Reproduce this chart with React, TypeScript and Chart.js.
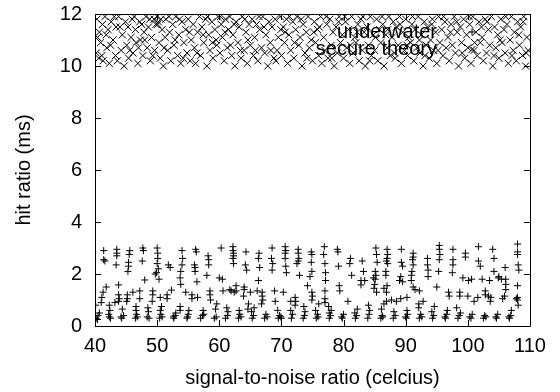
import React, { useEffect, useRef } from "react";
import { Chart, registerables } from "chart.js";

Chart.register(...registerables);

const xTitle = "signal-to-noise ratio (celcius)";
const yTitle = "hit ratio (ms)";
const xRange = [40, 110];
const yRange = [0, 12];
const xStep = 10;
const yStep = 2;
const seriesLabels = ["underwater", "secure theory"];

const underwater: number[][] = [
  [40.2,0.3],[40.5,0.4],[40.4,0.25],[40.7,0.5],[40.1,0.8],[41.0,0.9],[41.1,1.1],[41.3,1.3],[41.8,1.5],[41.4,2.55],[41.6,2.5],[41.4,2.9],
  [42.3,0.35],[42.5,0.3],[42.2,0.45],[42.4,0.6],[42.3,0.8],[43.2,0.9],[43.5,2.95],[43.5,2.8],[43.5,2.7],[43.4,2.35],[43.8,1.58],[43.8,1.2],[43.9,1.05],[43.8,0.95],
  [44.3,0.3],[44.6,0.4],[44.2,0.35],[44.4,0.65],[45.2,1.2],[45.2,1.05],[45.1,0.95],[45.6,2.9],[45.5,2.75],[45.4,2.45],[45.4,2.3],[45.3,2.1],
  [46.5,0.3],[46.7,0.45],[46.6,0.6],[46.6,0.75],[46.8,0.35],[46.1,1.3],[47.2,1.35],[47.2,1.05],[47.7,3.0],[47.8,2.9],[47.6,2.5],
  [48.4,0.35],[48.6,0.55],[48.5,0.7],[48.7,0.3],[48.0,1.77],[49.3,1.35],[49.3,1.2],[49.2,0.95],
  [50.4,0.3],[50.6,0.45],[50.5,0.6],[50.7,0.75],[50.8,0.35],[50.5,1.1],[50.3,1.8],[50.0,3.0],[50.1,2.8],[50.1,2.6],[50.0,2.4],[50.2,2.2],[49.9,2.05],[49.7,2.0],[51.6,1.2],[51.6,1.05],[51.8,2.35],[52.1,2.25],
  [52.7,0.3],[52.9,0.4],[52.6,0.35],[53.0,0.5],[52.3,1.38],[53.8,1.6],[53.7,0.75],[53.7,0.6],[54.0,2.9],[54.1,2.6],[54.0,2.35],[53.8,2.1],[53.7,1.85],
  [54.8,0.3],[55.0,0.45],[55.1,0.6],[54.9,0.35],[54.6,1.3],[55.6,1.2],[55.6,1.05],[56.5,1.1],[56.4,1.7],[56.2,2.95],[56.3,2.85],[56.0,2.35],[56.1,2.25],[56.1,2.1],
  [57.0,0.3],[57.3,0.4],[57.4,0.6],[57.5,0.45],[58.2,2.7],[58.3,2.55],[58.3,2.35],[58.0,1.95],[58.5,1.35],[58.5,1.2],[58.6,1.0],
  [59.2,0.3],[59.5,0.35],[59.4,0.65],[59.6,0.85],[60.3,3.0],[60.0,1.85],[60.5,1.8],[60.6,1.35],
  [61.0,0.3],[61.3,0.4],[61.4,0.55],[61.2,0.7],[61.7,1.4],[62.2,2.9],[62.3,2.7],[62.2,2.6],[62.3,2.4],[62.7,1.35],[62.7,1.55],[62.2,3.05],[62.3,2.8],
  [63.1,0.3],[63.3,0.45],[63.5,0.35],[63.2,0.6],[62.4,1.3],[61.9,1.35],[64.0,1.5],[64.0,1.4],[63.9,1.15],[64.3,2.85],[64.2,2.35],[64.4,2.15],
  [65.3,0.3],[65.5,0.4],[65.2,0.55],[65.6,0.7],[65.0,1.3],[66.1,1.35],[66.3,1.75],[66.4,2.8],[66.3,2.6],[66.5,2.25],[64.7,0.85],[64.6,0.65],
  [67.3,0.3],[67.5,0.45],[67.7,0.35],[66.9,1.3],[66.9,1.15],[67.0,1.0],[66.8,0.85],[68.5,3.0],[68.4,2.6],[68.6,2.4],[68.5,2.15],[68.9,1.35],[69.0,0.95],
  [69.5,0.3],[69.7,0.4],[69.9,0.35],[69.4,0.6],[70.3,1.3],[70.6,3.05],[70.7,2.9],[70.6,2.8],[70.6,2.6],[70.7,2.3],[70.8,2.05],[70.0,0.3],
  [71.6,0.3],[71.8,0.45],[71.5,0.6],[71.5,0.95],[72.2,1.1],[72.3,0.95],[72.2,0.8],[72.7,2.95],[72.7,2.8],[72.8,2.6],[72.7,2.5],[72.5,2.4],[72.9,1.95],
  [73.5,0.3],[73.7,0.4],[73.8,0.55],[73.6,0.75],[74.2,1.55],[74.8,2.85],[74.9,2.75],[74.8,2.45],[74.9,2.1],[74.6,1.9],[74.9,1.3],[75.0,1.15],[74.9,1.0],
  [75.6,0.3],[75.8,0.45],[75.5,0.6],[75.9,0.35],[76.0,0.85],[76.9,3.05],[76.8,2.75],[77.0,2.4],[77.1,2.05],[77.1,1.75],[77.0,1.35],[77.0,1.05],[77.0,0.9],
  [77.7,0.3],[77.9,0.4],[78.0,0.6],[77.6,0.75],[77.7,0.5],
  [79.8,0.3],[80.0,0.45],[79.7,0.35],[79.0,2.95],[79.1,2.85],[79.2,2.3],[79.3,1.55],[79.4,1.35],[80.7,0.95],[81.1,2.6],[81.0,2.4],[81.3,1.95],
  [81.9,0.3],[82.1,0.4],[82.2,0.65],[81.8,0.5],[83.0,2.5],[83.2,2.1],[82.8,1.75],[83.4,1.75],[82.8,1.58],
  [83.9,0.3],[84.1,0.45],[84.2,0.6],[84.0,0.8],[84.8,1.85],[85.0,1.6],[84.9,1.45],[85.3,1.3],[85.2,3.0],[85.3,2.75],[85.4,2.45],[85.1,2.1],[85.2,1.95],[85.1,1.8],
  [86.0,0.3],[86.2,0.4],[86.3,0.35],[86.1,0.65],[86.5,1.45],[87.0,1.55],[86.9,1.3],[86.5,0.85],[86.9,0.95],[87.0,2.95],[87.1,2.75],[87.0,2.6],[86.9,2.5],[87.1,2.4],[86.8,2.1],[86.8,1.95],
  [88.0,0.3],[88.3,0.4],[88.1,0.55],[87.7,1.0],[88.5,0.95],[89.3,2.95],[89.3,2.45],[89.5,2.3],[89.2,1.9],[89.0,1.75],[89.5,1.7],[89.2,1.05],
  [90.1,0.3],[90.3,0.45],[90.0,0.35],[90.2,0.6],[90.2,1.1],[91.2,2.8],[91.2,2.65],[91.1,2.55],[91.2,2.35],[91.0,2.1],[90.9,1.95],[90.9,1.75],[91.2,1.5],[91.5,1.4],
  [92.2,0.3],[92.4,0.45],[92.1,0.7],[92.6,0.35],[92.2,1.35],[92.1,0.85],[92.8,0.95],[93.5,2.6],[93.5,2.35],[93.6,2.15],[93.6,1.9],
  [94.3,0.3],[94.5,0.4],[94.2,0.55],[94.6,0.75],[95.0,1.5],[95.4,3.1],[95.4,2.95],[95.5,2.75],[95.4,2.55],[95.3,2.1],
  [96.4,0.3],[96.6,0.45],[96.7,0.6],[96.3,0.35],[96.9,1.3],[97.0,1.15],[97.6,2.95],[97.6,2.55],[97.6,2.35],[97.5,2.05],
  [98.4,0.3],[98.6,0.4],[98.8,0.5],[98.2,0.7],[98.7,1.3],[98.7,1.15],[99.6,2.8],[99.6,2.65],[99.2,1.85],[100.1,1.75],[100.6,1.8],
  [100.5,0.3],[100.7,0.45],[100.3,0.35],[100.0,1.15],[101.0,0.95],[101.7,3.05],[101.7,2.5],[102.0,2.3],[102.3,1.8],[101.6,1.1],
  [102.5,0.3],[102.7,0.4],[102.9,0.35],[102.8,1.35],[102.8,1.2],[103.3,1.15],[103.6,0.95],[104.0,2.95],[104.2,2.6],[104.2,2.1],[103.5,1.75],[103.7,1.1],
  [104.6,0.3],[104.8,0.45],[104.5,0.35],[104.9,1.85],[105.0,1.9],[106.0,2.25],[106.1,1.8],[105.4,1.8],[106.1,1.6],[106.1,1.4],[105.6,1.05],[105.9,1.15],
  [106.7,0.3],[106.9,0.4],[106.6,0.35],[107.0,0.6],[108.0,3.15],[108.0,2.85],[108.0,2.75],[108.1,2.35],[108.2,2.15],[108.0,1.55],[108.0,1.1],[108.0,1.0],[108.1,0.8],[107.8,1.05]
];

const secureTheory: number[][] = [
  [40.2,10.5],[40.3,11.8],[40.6,10.3],[40.7,11.3],[40.9,10.9],[41.2,11.6],[41.3,10.2],[41.6,11.9],[41.9,10.7],[42.1,11.4],[42.3,10.1],[42.6,11.7],[42.9,11.0],[43.3,10.4],[43.4,11.5],[43.8,11.9],[44.2,10.6],[44.4,11.2],[44.7,10.0],[44.9,11.7],
  [45.1,10.8],[45.3,11.5],[45.4,10.3],[45.8,11.1],[46.0,11.8],[46.1,10.5],[46.5,11.4],[46.6,10.9],[46.9,10.1],[47.2,11.7],[47.3,11.0],[47.7,10.4],[47.9,11.3],[48.2,11.9],[48.4,10.7],[48.6,11.5],[48.9,10.2],[49.1,11.1],[49.5,11.8],[49.6,10.6],[49.8,11.6],
  [50.0,11.9],[50.2,11.7],[50.3,10.9],[50.5,10.3],[50.8,11.4],[51.0,10.0],[51.3,11.1],[51.4,11.8],[51.7,10.6],[52.0,11.3],[52.2,10.2],[52.5,11.6],[52.7,10.8],[53.0,11.9],[53.3,10.4],[53.5,11.2],[53.8,10.1],[54.0,11.7],[54.3,10.9],[54.6,11.4],[54.8,10.5],
  [55.0,11.8],[55.3,10.2],[55.5,11.0],[55.8,11.6],[56.0,10.7],[56.2,10.1],[56.5,11.3],[56.8,11.9],[57.0,10.4],[57.2,11.5],[57.5,10.9],[57.8,11.8],[58.0,10.0],[58.3,11.2],[58.5,10.6],[58.8,11.7],[59.0,10.3],[59.3,11.4],[59.6,10.8],[59.8,11.9],
  [60.1,10.5],[60.3,11.6],[60.5,11.1],[60.8,10.2],[61.0,11.8],[61.3,10.7],[61.5,11.4],[61.7,11.9],[62.0,10.4],[62.2,11.2],[62.5,10.0],[62.7,11.7],[63.0,10.9],[63.2,11.5],[63.5,10.3],[63.7,11.9],[64.0,10.6],[64.3,11.3],[64.5,10.1],[64.8,11.6],
  [65.0,10.8],[65.3,11.8],[65.5,10.4],[65.7,11.1],[66.0,11.6],[66.2,10.2],[66.5,11.4],[66.8,10.7],[67.0,11.9],[67.3,10.5],[67.5,11.2],[67.8,10.0],[68.0,11.7],[68.2,10.9],[68.5,11.5],[68.8,10.3],[69.0,11.8],[69.3,10.6],[69.5,11.1],[69.8,11.9],
  [70.0,10.4],[70.3,11.5],[70.5,10.9],[70.8,11.8],[71.0,10.1],[71.2,11.2],[71.5,10.6],[71.8,11.7],[72.0,10.3],[72.3,11.4],[72.5,11.9],[72.8,10.8],[73.0,11.1],[73.3,10.0],[73.5,11.6],[73.8,10.5],[74.0,11.3],[74.3,11.9],[74.5,10.7],[74.8,11.0],
  [75.0,10.2],[75.3,11.7],[75.5,10.9],[75.8,11.4],[76.0,10.4],[76.3,11.9],[76.5,10.1],[76.8,11.1],[77.0,10.6],[77.3,11.6],[77.5,10.3],[77.8,11.8],[78.0,10.8],[78.3,11.3],[78.5,10.0],[78.8,11.5],[79.0,10.5],[79.3,11.9],[79.5,10.9],[79.8,11.2],
  [80.0,10.3],[80.3,11.7],[80.5,10.7],[80.8,11.4],[81.0,10.1],[81.3,11.9],[81.5,10.5],[81.8,11.1],[82.0,10.9],[82.3,11.6],[82.5,10.2],[82.8,11.8],[83.0,10.6],[83.3,11.3],[83.5,10.0],[83.8,11.5],[84.0,10.8],[84.3,11.9],[84.5,10.4],[84.8,11.2],
  [85.0,10.6],[85.3,11.8],[85.5,10.2],[85.8,11.4],[86.0,10.9],[86.3,11.6],[86.5,10.0],[86.8,11.2],[87.0,10.7],[87.3,11.9],[87.5,10.4],[87.8,11.1],[88.0,11.7],[88.3,10.3],[88.5,11.5],[88.8,10.8],[89.0,11.9],[89.3,10.1],[89.5,11.3],[89.8,10.6],
  [90.0,11.8],[90.3,10.4],[90.5,11.1],[90.8,10.9],[91.0,11.6],[91.3,10.2],[91.5,11.4],[91.8,10.7],[92.0,11.9],[92.3,10.5],[92.5,11.2],[92.8,10.0],[93.0,11.7],[93.3,10.8],[93.5,11.5],[93.8,10.3],[94.0,11.0],[94.3,11.8],[94.5,10.6],[94.8,11.3],
  [95.0,10.1],[95.3,11.9],[95.5,10.9],[95.8,11.4],[96.0,10.4],[96.3,11.7],[96.5,10.7],[96.8,11.1],[97.0,10.2],[97.3,11.6],[97.5,10.8],[97.8,11.9],[98.0,10.5],[98.3,11.3],[98.5,10.0],[98.8,11.5],[99.0,10.9],[99.3,11.8],[99.5,10.3],[99.8,11.2],
  [100.0,10.7],[100.3,11.6],[100.5,10.1],[100.8,11.9],[101.0,10.6],[101.3,11.3],[101.5,10.4],[101.8,11.7],[102.0,10.9],[102.3,11.1],[102.5,10.2],[102.8,11.8],[103.0,10.5],[103.3,11.4],[103.5,10.8],[103.8,11.9],[104.0,10.0],[104.3,11.5],[104.5,10.7],[104.8,11.2],
  [105.0,10.3],[105.3,11.8],[105.5,10.9],[105.8,11.4],[106.0,10.5],[106.3,11.6],[106.5,10.1],[106.8,11.0],[107.0,11.9],[107.3,10.6],[107.5,11.3],[107.8,10.2],[108.0,11.7],[108.3,10.8],[108.5,11.5],[108.8,10.4],[109.0,11.9],[109.3,10.0],[109.5,11.1],[109.7,10.6],
  [40.4,11.1],[41.1,10.4],[41.8,11.2],[42.5,10.8],[43.1,11.9],[43.6,10.2],[44.0,11.5],[45.6,10.6],[46.3,11.9],[47.0,10.7],[47.5,11.6],[48.0,11.0],[48.8,11.8],[49.3,10.4],[50.1,11.6],[50.6,11.8],[51.1,10.7],[51.9,11.9],[52.9,11.0],[53.6,11.8],
  [54.2,10.3],[55.2,11.3],[56.4,10.5],[57.4,11.2],[58.1,11.9],[58.9,10.9],[59.5,11.0],[60.2,11.9],[60.9,11.3],[61.8,10.8],[62.4,11.6],[63.4,10.6],[64.1,11.8],[64.6,11.0],[65.8,10.6],[66.4,11.9],[67.2,11.5],[68.3,10.6],[69.1,10.2],[69.9,11.4],
  [70.6,11.3],[71.3,11.9],[72.1,10.9],[73.2,11.8],[74.1,10.3],[75.2,11.3],[76.1,11.5],[77.2,11.9],[78.1,10.3],[79.2,11.7],[80.2,11.9],[81.1,10.8],[82.2,11.3],[83.1,11.9],[84.2,10.2],[85.1,11.1],[86.2,11.9],[87.1,11.4],[88.2,10.5],[89.1,11.6],
  [90.2,10.8],[91.1,11.9],[92.2,11.0],[93.1,10.4],[94.2,11.6],[95.2,10.6],[96.1,11.9],[97.2,11.3],[98.2,11.7],[99.1,10.5],[100.2,11.9],[101.1,10.9],[102.2,11.5],[103.1,11.7],[104.2,10.4],[105.2,11.0],[106.1,11.9],[107.1,10.4],[108.2,11.2],[108.9,11.7],[109.4,10.5]
];

const FONT = "'Liberation Sans', Arial, Helvetica, sans-serif";

const frameTicksPlugin = {
  id: "frameTicks",
  afterDraw(chart: any) {
    const { ctx, chartArea } = chart;
    const { left, right, top, bottom } = chartArea;
    const xs = chart.scales.x;
    const ys = chart.scales.y;
    ctx.save();
    ctx.strokeStyle = "#000";
    ctx.lineWidth = 1;
    ctx.beginPath();
    ctx.rect(Math.round(left) + 0.5, Math.round(top) + 0.5, Math.round(right - left), Math.round(bottom - top));
    ctx.stroke();
    const tl = 6;
    ctx.beginPath();
    xs.ticks.forEach((t: any) => {
      const px = Math.round(xs.getPixelForValue(t.value)) + 0.5;
      ctx.moveTo(px, bottom);
      ctx.lineTo(px, bottom - tl);
      ctx.moveTo(px, top);
      ctx.lineTo(px, top + tl);
    });
    ys.ticks.forEach((t: any) => {
      const py = Math.round(ys.getPixelForValue(t.value)) + 0.5;
      ctx.moveTo(left, py);
      ctx.lineTo(left + tl, py);
      ctx.moveTo(right, py);
      ctx.lineTo(right - tl, py);
    });
    ctx.stroke();
    ctx.restore();
  },
};

const keyPlugin = {
  id: "gnuKey",
  afterDatasetsDraw(chart: any) {
    const { ctx } = chart;
    ctx.save();
    ctx.font = `20px ${FONT}`;
    ctx.fillStyle = "#000";
    ctx.textAlign = "right";
    ctx.textBaseline = "middle";
    chart.data.datasets.forEach((ds: any, i: number) => {
      const y = 32 + i * 17.5;
      ctx.fillText(ds.label, 437, y);
      const sx = 472;
      const r = ds.pointRadius;
      ctx.strokeStyle = "#000";
      ctx.lineWidth = 1;
      ctx.beginPath();
      if (ds.pointStyle === "cross") {
        ctx.moveTo(sx - r, y); ctx.lineTo(sx + r, y);
        ctx.moveTo(sx, y - r); ctx.lineTo(sx, y + r);
      } else {
        const d = r * Math.SQRT1_2;
        ctx.moveTo(sx - d, y - d); ctx.lineTo(sx + d, y + d);
        ctx.moveTo(sx - d, y + d); ctx.lineTo(sx + d, y - d);
      }
      ctx.stroke();
    });
    ctx.restore();
  },
};

export default function App() {
  const ref = useRef<HTMLCanvasElement | null>(null);
  useEffect(() => {
    if (!ref.current) return;
    const chart = new Chart(ref.current, {
      type: "scatter",
      data: {
        datasets: [
          {
            label: seriesLabels[0],
            data: underwater.map(([x, y]) => ({ x, y })),
            pointStyle: "cross",
            pointRadius: 3.5,
            borderColor: "#000",
            backgroundColor: "#000",
            borderWidth: 1,
          },
          {
            label: seriesLabels[1],
            data: secureTheory.map(([x, y]) => ({ x, y })),
            pointStyle: "crossRot",
            pointRadius: 5,
            borderColor: "#000",
            backgroundColor: "#000",
            borderWidth: 1,
          },
        ],
      },
      options: {
        animation: false,
        responsive: false,
        devicePixelRatio: 1,
        layout: { padding: { top: 14, right: 30, left: 0, bottom: 0 } },
        plugins: {
          legend: { display: false },
          tooltip: { enabled: false },
        },
        scales: {
          x: {
            type: "linear",
            min: xRange[0],
            max: xRange[1],
            grid: { display: false, drawTicks: false },
            border: { display: false },
            ticks: {
              stepSize: xStep,
              color: "#000",
              font: { family: FONT, size: 20 },
              padding: 8,
              maxRotation: 0,
            },
            title: {
              display: true,
              text: xTitle,
              color: "#000",
              font: { family: FONT, size: 20 },
              padding: { top: 0, bottom: 2 },
            },
            afterFit(scale: any) {
              scale.height = 66;
              scale.paddingLeft = 0;
              scale.paddingRight = 0;
            },
          },
          y: {
            type: "linear",
            min: yRange[0],
            max: yRange[1],
            grid: { display: false, drawTicks: false },
            border: { display: false },
            ticks: {
              stepSize: yStep,
              color: "#000",
              font: { family: FONT, size: 20 },
              padding: 13,
            },
            title: {
              display: true,
              text: yTitle,
              color: "#000",
              font: { family: FONT, size: 20 },
              padding: { top: 12, bottom: 0 },
            },
            afterFit(scale: any) {
              scale.width = 95;
              scale.paddingTop = 0;
              scale.paddingBottom = 0;
            },
          },
        },
      },
      plugins: [frameTicksPlugin, keyPlugin],
    });
    return () => chart.destroy();
  }, []);
  return (
    <div style={{ position: "fixed", left: 0, top: 0, width: 560, height: 392, background: "#fff" }}>
      <canvas ref={ref} width={560} height={392} style={{ display: "block", width: 560, height: 392 }} />
    </div>
  );
}
